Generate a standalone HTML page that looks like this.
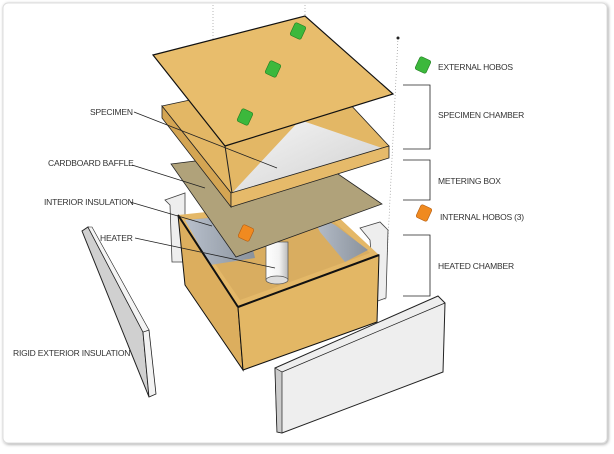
<!DOCTYPE html>
<html><head><meta charset="utf-8"><style>
html,body{margin:0;padding:0;background:#fff;}
body{width:614px;height:449px;overflow:hidden;}
svg text{font-family:"Liberation Sans",sans-serif;font-size:8.5px;fill:#333;letter-spacing:-0.2px}
</style></head><body>
<svg width="614" height="449" viewBox="0 0 614 449">
<defs>
<filter id="sh" x="-5%" y="-5%" width="110%" height="110%"><feDropShadow dx="1" dy="1" stdDeviation="1.5" flood-color="#000" flood-opacity="0.35"/></filter>
<linearGradient id="wh" x1="0" y1="0" x2="1" y2="1"><stop offset="0" stop-color="#f6f6f6"/><stop offset="1" stop-color="#cfcfcf"/></linearGradient>
<linearGradient id="mt" x1="0" y1="0" x2="1" y2="0"><stop offset="0" stop-color="#b8c0cc"/><stop offset="1" stop-color="#8a929c"/></linearGradient>
<linearGradient id="cyl" x1="0" y1="0" x2="1" y2="0"><stop offset="0" stop-color="#fff"/><stop offset="0.6" stop-color="#f2f2f2"/><stop offset="1" stop-color="#bbb"/></linearGradient>
</defs>
<rect x="3" y="3" width="604" height="440" rx="5" fill="#fff" stroke="#ddd" filter="url(#sh)"/>
<g stroke="#999" stroke-width="0.7" stroke-dasharray="1,2" fill="none">
<line x1="213" y1="5" x2="213" y2="170"/><line x1="305" y1="5" x2="305" y2="20"/><line x1="398" y1="38" x2="385" y2="300"/>
</g>
<circle cx="398" cy="38" r="1.5" fill="#222"/>
<!-- left rigid panel -->
<polygon points="82,231 88,227 143,332 149,397" fill="#d0d0d0" stroke="#222" stroke-width="1"/>
<polygon points="143,332 149,330 156,394 149,397" fill="#f2f2f2" stroke="#222" stroke-width="0.8"/>
<polygon points="88,227 92,227 149,330 143,332" fill="#f4f4f4" stroke="#222" stroke-width="0.6"/>
<!-- back insulation panels -->
<polygon points="165,200 185,193 185,262 172,262 170,205" fill="#eee" stroke="#444" stroke-width="0.8"/>
<polygon points="360,228 380,222 388,230 386,298 375,302 370,240" fill="#eee" stroke="#444" stroke-width="0.8"/>
<!-- heated chamber box -->
<polygon points="178,215 320,200 379,255 238,307" fill="#e4b868"/>
<polygon points="185,220 315,205 370,253 240,300" fill="#d9ad60"/>
<polygon points="185,220 245,215 255,258 210,265" fill="url(#mt)"/>
<polygon points="310,212 335,225 368,250 345,262 320,232" fill="url(#mt)"/>
<polygon points="178,215 238,307 243,370 185,285" fill="#dcae5e" stroke="#111" stroke-width="1"/>
<polygon points="238,307 379,255 377,322 243,370" fill="#e3b765" stroke="#111" stroke-width="1"/>
<line x1="178" y1="215" x2="238" y2="307" stroke="#111" stroke-width="2"/>
<line x1="238" y1="307" x2="379" y2="255" stroke="#111" stroke-width="2"/>
<!-- heater -->
<rect x="266" y="242" width="22" height="38" fill="url(#cyl)" stroke="#555" stroke-width="0.7"/>
<ellipse cx="277" cy="280" rx="11" ry="4" fill="#ddd" stroke="#555" stroke-width="0.7"/>
<!-- baffle -->
<polygon points="171,164 300,148 382,204 236,257" fill="#b0a27a" stroke="#222" stroke-width="0.8"/>
<!-- specimen tray -->
<polygon points="162,106 320,72 389,146 231,193" fill="#e3b765" stroke="#222" stroke-width="0.8"/>
<polygon points="232,193 300,120 382,148" fill="url(#wh)"/>
<polygon points="162,106 162,118 231,207 231,193" fill="#d4a553" stroke="#222" stroke-width="0.8"/>
<polygon points="231,193 389,146 389,158 231,207" fill="#e6ba6a" stroke="#222" stroke-width="0.8"/>
<line x1="225" y1="146" x2="232" y2="193" stroke="#222" stroke-width="1"/>
<!-- top lid -->
<polygon points="153,55 305,16 393,94 225,146" fill="#e8bd6c" stroke="#111" stroke-width="1.2"/>
<!-- hobos -->
<g fill="#3cb83c" stroke="#1e7a1e" stroke-width="0.6">
<rect x="292" y="24" width="12" height="14" rx="2" transform="rotate(25 298 31)"/>
<rect x="267" y="62" width="12" height="14" rx="2" transform="rotate(25 273 69)"/>
<rect x="239" y="110" width="12" height="14" rx="2" transform="rotate(25 245 117)"/>
<rect x="417" y="58" width="12" height="14" rx="2" transform="rotate(25 423 65)"/>
</g>
<g fill="#f08a20" stroke="#b05a10" stroke-width="0.6">
<rect x="240" y="226" width="12" height="14" rx="2" transform="rotate(25 246 233)"/>
<rect x="418" y="206" width="12" height="14" rx="2" transform="rotate(25 424 213)"/>
</g>
<!-- front rigid panel -->
<polygon points="275,368 438,296 445,303 443,372 282,433 277,432" fill="#eee" stroke="#222" stroke-width="1"/>
<polygon points="275,368 282,372 282,433 277,432" fill="#ccc" stroke="#222" stroke-width="0.7"/>
<line x1="282" y1="372" x2="445" y2="303" stroke="#222" stroke-width="0.7"/>
<!-- leaders -->
<g stroke="#222" stroke-width="0.8" fill="none">
<line x1="134" y1="112" x2="277" y2="168"/>
<line x1="132" y1="165" x2="205" y2="188"/>
<line x1="130" y1="202" x2="212" y2="226"/>
<line x1="135" y1="238" x2="275" y2="268"/>
<polyline points="403,85 430,85 430,149 403,149"/>
<polyline points="403,160 430,160 430,200 403,200"/>
<polyline points="403,235 430,235 430,296 403,296"/>
</g>
<text x="438" y="70">EXTERNAL HOBOS</text>
<text x="438" y="118">SPECIMEN CHAMBER</text>
<text x="438" y="184">METERING BOX</text>
<text x="440" y="220">INTERNAL HOBOS (3)</text>
<text x="438" y="269">HEATED CHAMBER</text>
<text x="90" y="115">SPECIMEN</text>
<text x="48" y="166">CARDBOARD BAFFLE</text>
<text x="44" y="205">INTERIOR INSULATION</text>
<text x="100" y="241">HEATER</text>
<text x="13" y="356">RIGID EXTERIOR INSULATION</text>
</svg>
</body></html>
